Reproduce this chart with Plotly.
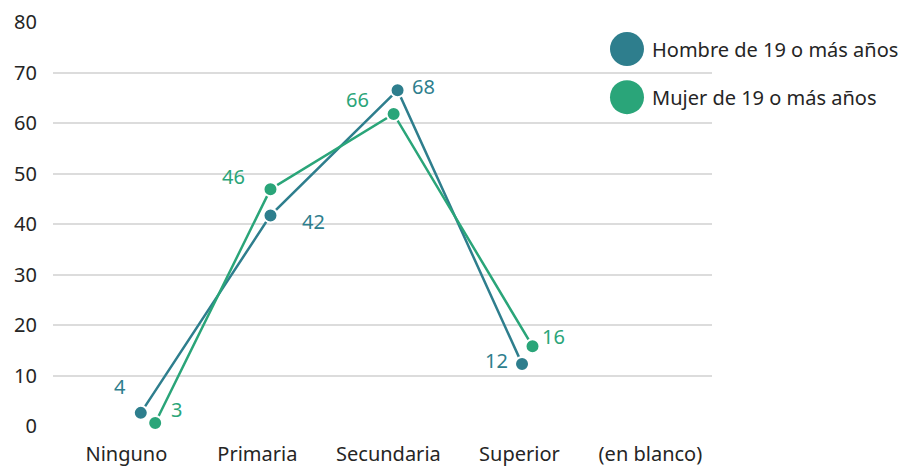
import plotly.graph_objects as go

# ---- data ----
categories = ["Ninguno", "Primaria", "Secundaria", "Superior", "(en blanco)"]
hombre_name = "Hombre de 19 o más años"
mujer_name = "Mujer de 19 o más años"
hombre_x = [0.11, 1.10, 2.07, 3.02]
hombre_y = [2.6, 41.7, 66.5, 12.3]
hombre_labels = ["4", "42", "68", "12"]
mujer_x = [0.22, 1.10, 2.04, 3.10]
mujer_y = [0.6, 46.9, 61.8, 15.8]
mujer_labels = ["3", "46", "66", "16"]
y_ticks = [0, 10, 20, 30, 40, 50, 60, 70, 80]

# ---- style ----
FONT = "Noto Sans"
C_H = "#2e7e8d"
C_M = "#2aa579"
TXT = "#252525"
FS = 20
hombre_shift = [(-21, 26), (43, -6), (26, 4), (-26, 3)]
mujer_shift = [(21, 13), (-37, 13), (-36, 14), (21, 10)]

fig = go.Figure()
for name, xs, ys, col in [(hombre_name, hombre_x, hombre_y, C_H),
                          (mujer_name, mujer_x, mujer_y, C_M)]:
    fig.add_trace(go.Scatter(
        x=xs, y=ys, name=name, mode="lines+markers",
        line=dict(color=col, width=2.5),
        marker=dict(color=col, size=14, line=dict(color="white", width=2)),
        showlegend=False, hoverinfo="skip", cliponaxis=False))

annotations = []
for xs, ys, labs, shifts, col in [(hombre_x, hombre_y, hombre_labels, hombre_shift, C_H),
                                  (mujer_x, mujer_y, mujer_labels, mujer_shift, C_M)]:
    for x, y, t, (dx, dy) in zip(xs, ys, labs, shifts):
        annotations.append(dict(x=x, y=y, xref="x", yref="y", text=t, showarrow=False,
                                xshift=dx, yshift=dy,
                                font=dict(family=FONT, size=FS, color=col)))

# manual legend with large circles
shapes = []
for i, (name, col) in enumerate([(hombre_name, C_H), (mujer_name, C_M)]):
    yc = 0.933 - i * 0.119
    shapes.append(dict(type="circle", xref="paper", yref="paper",
                       xsizemode="pixel", ysizemode="pixel",
                       xanchor=0.871, yanchor=yc,
                       x0=-17, x1=17, y0=-17, y1=17,
                       fillcolor=col, line=dict(width=0)))
    annotations.append(dict(x=0.906, y=yc, xref="paper", yref="paper", text=name,
                            showarrow=False, xanchor="left", yanchor="middle",
                            font=dict(family=FONT, size=FS, color=TXT)))

fig.update_layout(
    width=904, height=466,
    margin=dict(l=53, r=192, t=22, b=40, autoexpand=False),
    paper_bgcolor="white", plot_bgcolor="white",
    font=dict(family=FONT, size=FS, color=TXT),
    showlegend=False,
    annotations=annotations, shapes=shapes,
    xaxis=dict(range=[-0.56, 4.47], tickmode="array",
               tickvals=list(range(len(categories))), ticktext=categories,
               showgrid=False, zeroline=False, showline=False, automargin=False,
               ticks="", ticklabelstandoff=14,
               tickfont=dict(family=FONT, size=FS, color=TXT)),
    yaxis=dict(range=[0, 80], tickvals=y_ticks, showgrid=True, automargin=False,
               gridcolor="#dcdcdc", gridwidth=1.5, zeroline=False, showline=False,
               ticks="", ticklabelstandoff=15,
               tickfont=dict(family=FONT, size=FS, color=TXT)),
)

fig.write_html("out.html",
               config={"displayModeBar": False},
               post_script="document.body.style.margin='0px';"
                           "document.body.style.overflow='hidden';")
